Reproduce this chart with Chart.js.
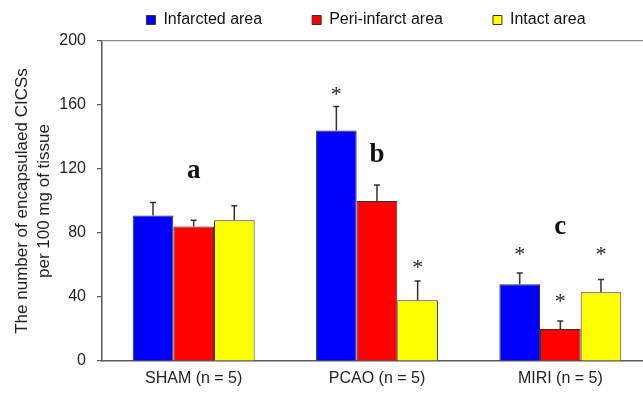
<!DOCTYPE html>
<html>
<head>
<meta charset="utf-8">
<script src="https://cdn.jsdelivr.net/npm/chart.js@4/dist/chart.umd.min.js"></script>
<style>
  html, body { margin: 0; padding: 0; background: #fff; overflow: hidden; }
  #wrap { width: 655px; height: 394px; }
</style>
</head>
<body>
<div id="wrap"><canvas id="chart" width="655" height="394"></canvas></div>
<script>
// groups and series
const categories = ['SHAM (n = 5)', 'PCAO (n = 5)', 'MIRI (n = 5)'];
const infarcted = [91, 144, 48];
const infarctedErr = [8, 15, 7];
const periInfarct = [84, 100, 20];
const periInfarctErr = [4, 10, 5];
const intact = [88, 38, 43];
const intactErr = [9, 12, 8];

// significance marks (* level, in data units) and group letters
const infarctedStars = [null, 169, 69];
const periInfarctStars = [null, null, 40];
const intactStars = [null, 61, 69];
const groupLetters = ['a', 'b', 'c'];
const letterLevels = [119, 129, 84];

const yTicks = [0, 40, 80, 120, 160, 200];

const AXIS = '#595959';
const INK = '#333333';
const SANS = "'Liberation Sans', Arial, sans-serif";
const SERIF = "'Liberation Serif', 'Times New Roman', serif";

// error bars (upper only), asterisks and group letters
const annotations = {
  id: 'annotations',
  afterDatasetsDraw(chart) {
    const { ctx, scales: { x, y } } = chart;
    const errs = [infarctedErr, periInfarctErr, intactErr];
    const stars = [infarctedStars, periInfarctStars, intactStars];
    ctx.save();
    chart.data.datasets.forEach((ds, i) => {
      const meta = chart.getDatasetMeta(i);
      meta.data.forEach((bar, j) => {
        const top = y.getPixelForValue(ds.data[j] + errs[i][j]);
        ctx.strokeStyle = INK;
        ctx.lineWidth = 1.5;
        ctx.beginPath();
        ctx.moveTo(bar.x, bar.y);
        ctx.lineTo(bar.x, top);
        ctx.moveTo(bar.x - 3, top);
        ctx.lineTo(bar.x + 3, top);
        ctx.stroke();

        if (stars[i][j] != null) {
          ctx.fillStyle = '#222';
          ctx.font = '22px ' + SERIF;
          ctx.textAlign = 'center';
          ctx.textBaseline = 'middle';
          ctx.fillText('*', bar.x, y.getPixelForValue(stars[i][j]) + 5);
        }
      });
    });
    groupLetters.forEach((t, j) => {
      ctx.fillStyle = '#111';
      ctx.font = 'bold 27px ' + SERIF;
      ctx.textAlign = 'center';
      ctx.textBaseline = 'middle';
      ctx.fillText(t, x.getPixelForValue(j), y.getPixelForValue(letterLevels[j]));
    });
    ctx.restore();
  }
};

// move the legend row to where it sits in the figure
const legendPlace = {
  id: 'legendPlace',
  afterLayout(chart) {
    const l = chart.legend;
    l.left += 40;
    l.right += 40;
    l.top = -38;
  }
};

new Chart(document.getElementById('chart'), {
  type: 'bar',
  data: {
    labels: categories,
    datasets: [
      { label: 'Infarcted area', data: infarcted, backgroundColor: '#0000ff' },
      { label: 'Peri-infarct area', data: periInfarct, backgroundColor: '#ff0000' },
      { label: 'Intact area', data: intact, backgroundColor: '#ffff00' }
    ].map(d => Object.assign(d, {
      borderColor: INK,
      borderWidth: 1,
      categoryPercentage: 0.665,
      barPercentage: 1
    }))
  },
  options: {
    responsive: false,
    animation: false,
    layout: { padding: { top: 0, right: 3, bottom: 0, left: 0 } },
    plugins: {
      legend: {
        position: 'top',
        maxHeight: 41,
        labels: {
          boxWidth: 9,
          boxHeight: 9,
          padding: 50,
          color: '#111',
          font: { family: SANS, size: 16 }
        }
      },
      tooltip: { enabled: false }
    },
    scales: {
      x: {
        type: 'category',
        offset: true,
        afterFit: s => { s.height = 33; },
        grid: { display: false, drawTicks: false },
        border: { display: true, color: AXIS, width: 1.5 },
        ticks: { color: '#222', padding: 8, font: { family: SANS, size: 16 } }
      },
      y: {
        min: 0,
        max: 200,
        afterFit: s => { s.width = 102; },
        afterBuildTicks: s => { s.ticks = yTicks.map(v => ({ value: v })); },
        grid: {
          drawOnChartArea: true,
          color: c => (c.tick && c.tick.value === 200 ? '#8c8c8c' : 'rgba(0,0,0,0)'),
          tickColor: AXIS,
          tickLength: 5,
          lineWidth: 1.2
        },
        border: { display: true, color: AXIS, width: 1.5 },
        ticks: { color: '#222', padding: 11, font: { family: SANS, size: 16 } },
        title: {
          display: true,
          text: ['The number of encapsulaed CICSs', 'per 100 mg of tissue'],
          color: '#222',
          padding: { top: 11, bottom: 0 },
          font: { family: SANS, size: 17, lineHeight: 1.32 }
        }
      }
    }
  },
  plugins: [annotations, legendPlace]
});
</script>
</body>
</html>
